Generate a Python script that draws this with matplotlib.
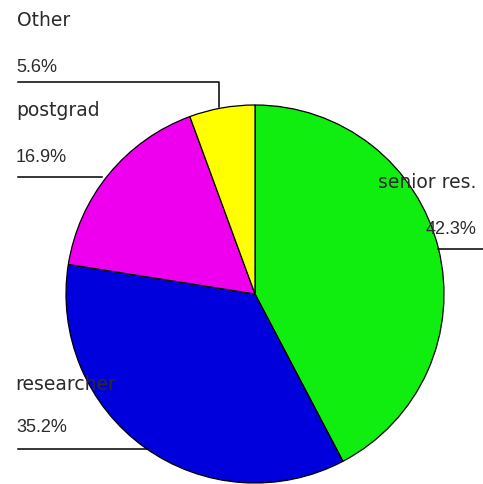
import matplotlib

matplotlib.use("Agg")
import matplotlib.pyplot as plt

# slices, clockwise from 12 o'clock
labels = ["senior res.", "researcher", "postgrad", "Other"]
shares = [42.3, 35.2, 16.9, 5.6]
colors = ["#10ee10", "#0000dd", "#ee00ee", "#ffff00"]

W, H = 483, 485
CX, CY, R = 255, 295, 189  # pixel coords, y down

# label placement (pixel coords, y down): name xy, percent xy, leader line
LAYOUT = {
    "senior res.": ((378, 182), (426, 230), [(438, 250), (483, 250)]),
    "researcher": ((15, 385), (16, 428), [(18, 450), (148, 450)]),
    "postgrad": ((16, 110), (16, 157), [(18, 178), (102, 178)]),
    "Other": ((17, 20), (16, 67), [(18, 83), (219, 83), (219, 108)]),
}

fig = plt.figure(figsize=(W / 100, H / 100), dpi=100)
ax = fig.add_axes([0, 0, 1, 1])


def fy(y):
    return H - y


ax.pie(shares, colors=colors, startangle=90, counterclock=False,
       center=(CX, fy(CY)), radius=R, frame=True,
       wedgeprops=dict(edgecolor="black", linewidth=0.9))
ax.set_xlim(0, W)
ax.set_ylim(0, H)
ax.axis("off")

for lab, pct in zip(labels, shares):
    (nx, ny), (px, py), line = LAYOUT[lab]
    ax.text(nx, fy(ny), lab, fontsize=13.5, color="#2a2a2a",
            family=["DejaVu Sans"], va="center", ha="left", zorder=5)
    ax.text(px, fy(py), f"{pct:.1f}%", fontsize=13, color="#2a2a2a",
            family=["Liberation Sans", "DejaVu Sans"],
            va="center", ha="left", zorder=5)
    xs = [p[0] for p in line]
    ys = [fy(p[1]) for p in line]
    ax.plot(xs, ys, color="black", linewidth=1.1, zorder=4)

fig.savefig("out.png", dpi=100)
